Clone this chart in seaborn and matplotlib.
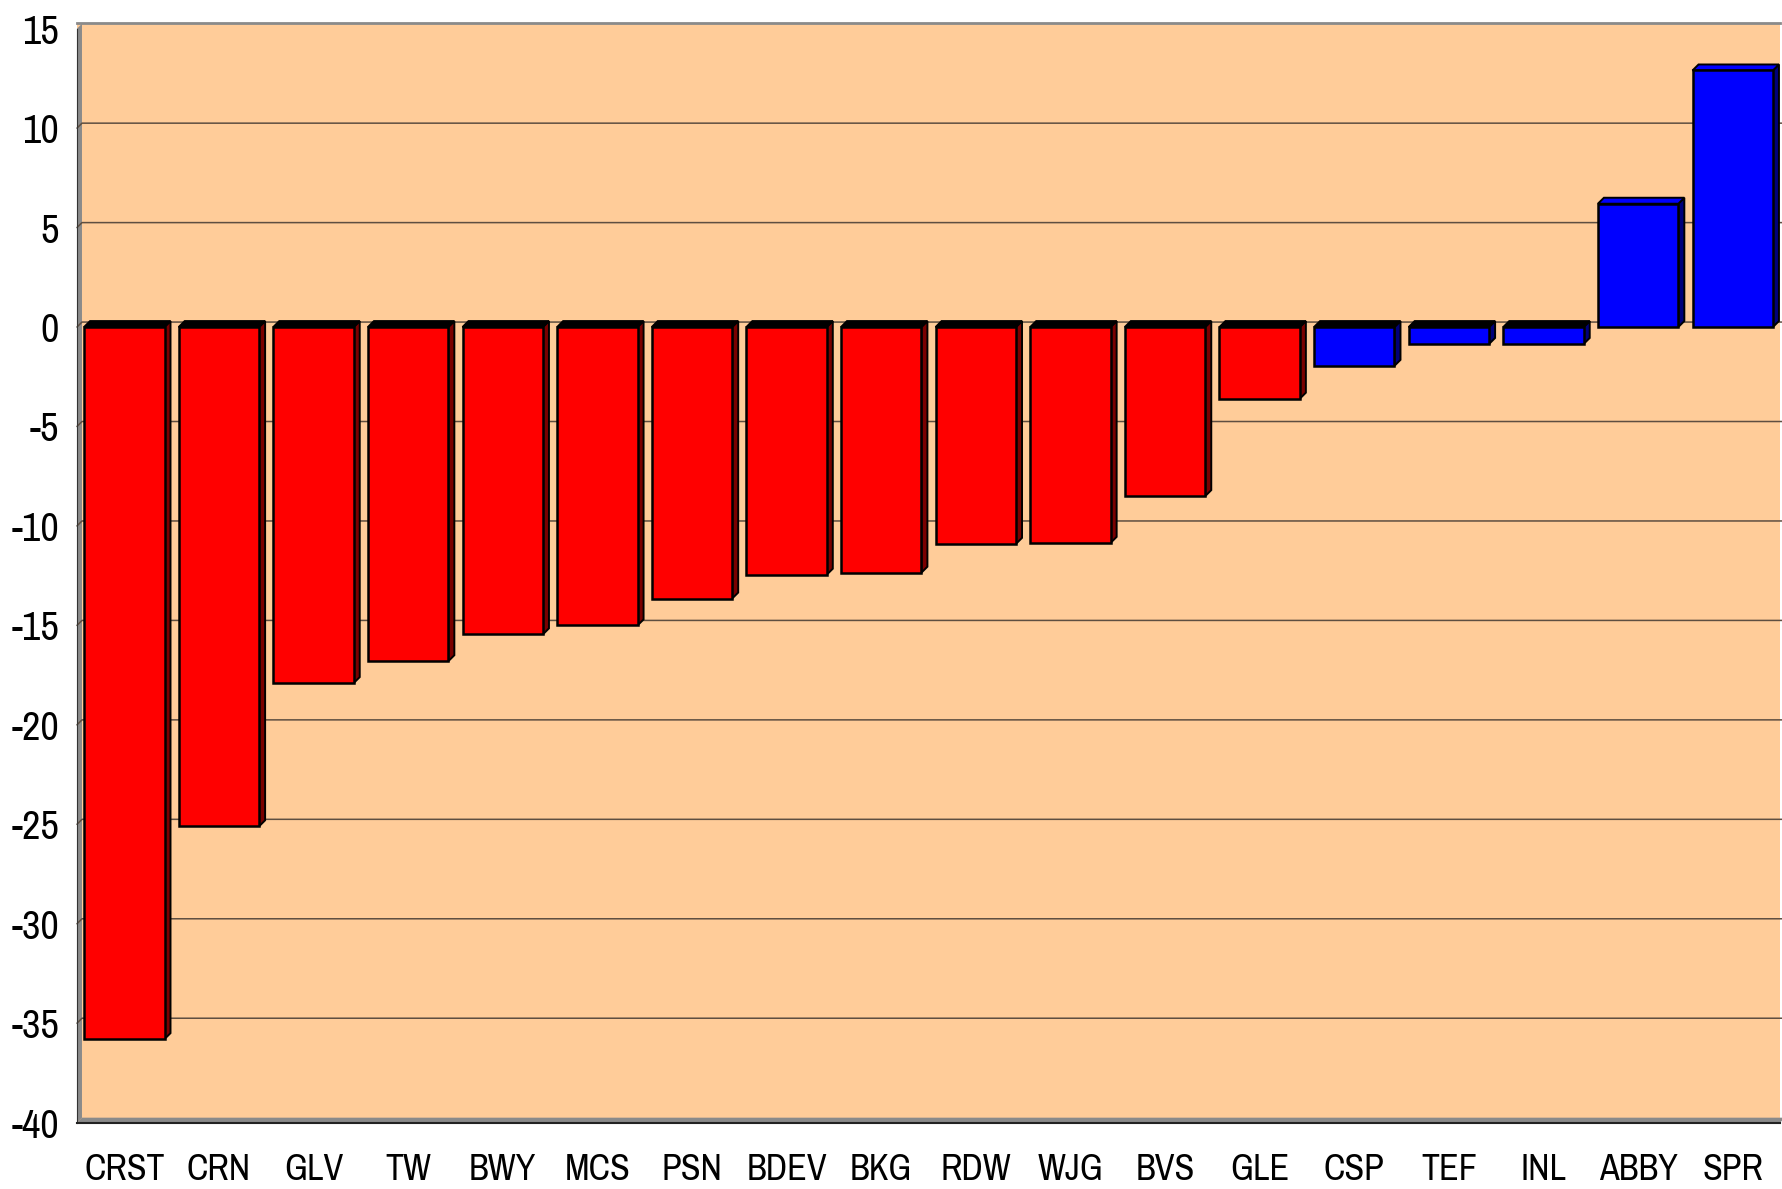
import numpy as np
import pandas as pd
import matplotlib
matplotlib.use("Agg")
import matplotlib.pyplot as plt
from matplotlib import font_manager
from matplotlib.patches import Polygon
import seaborn as sns

# data
codes = ["CRST", "CRN", "GLV", "TW", "BWY", "MCS", "PSN", "BDEV", "BKG",
         "RDW", "WJG", "BVS", "GLE", "CSP", "TEF", "INL", "ABBY", "SPR"]
change = [-35.8, -25.1, -17.9, -16.8, -15.45, -15.0, -13.65, -12.45, -12.35,
          -10.9, -10.85, -8.5, -3.6, -1.95, -0.85, -0.85, 6.2, 12.9]
group = ["down"] * 13 + ["up"] * 5
yticks = [15, 10, 5, 0, -5, -10, -15, -20, -25, -30, -35, -40]

df = pd.DataFrame({"code": codes, "change": change, "group": group})

front = {"down": "#FF0000", "up": "#0000FF"}
side = {"down": "#7a0000", "up": "#00007a"}
peach = "#FFCC99"

sns.set_style("white")

# narrow font if there is one installed, else plain Liberation Sans
fams = {f.name for f in font_manager.fontManager.ttflist}
narrow = [f.name for f in font_manager.fontManager.ttflist
          if "Narrow" in f.name or "Condensed" in f.name]
if "Liberation Sans Narrow" in fams:
    plt.rcParams["font.family"] = ["Liberation Sans Narrow", "DejaVu Sans"]
elif narrow:
    plt.rcParams["font.family"] = [narrow[0], "DejaVu Sans"]
else:
    plt.rcParams["font.family"] = ["Liberation Sans", "DejaVu Sans"]

fig = plt.figure(figsize=(17.82, 11.89), dpi=100)
ax = fig.add_axes([0.0432, 0.0558, 0.9557, 0.9251])
ax.set_facecolor(peach)

sns.barplot(data=df, x="code", y="change", hue="group", palette=front,
            width=0.85, edgecolor="black", linewidth=1.8, legend=False,
            saturation=1, ax=ax, zorder=3)

ax.set_xlim(-0.5, len(codes) - 0.5)
ax.set_ylim(-40, 15)
# pixel -> data conversion for the fake 3D depth
p0 = ax.transData.transform((0, 0))
p1 = ax.transData.transform((1, 1))
ux, uy = p1[0] - p0[0], p1[1] - p0[1]
ax.set_ylim(-40, 15 + 6 / uy)

dxw, dyw = 5 / ux, 5 / uy   # walls
dxb, dyb = 6 / ux, 6 / uy   # bars
x_lo, x_hi = -0.5, len(codes) - 0.5

# left wall and floor
ax.add_patch(Polygon([(x_lo, -40), (x_lo, 15), (x_lo + dxw, 15 + dyw), (x_lo + dxw, -40 + dyw)],
                     closed=True, facecolor="#8a8a8a", edgecolor="none", zorder=1.5, clip_on=False))
ax.add_patch(Polygon([(x_lo, -40), (x_hi, -40), (x_hi + dxw, -40 + dyw), (x_lo + dxw, -40 + dyw)],
                     closed=True, facecolor="#8a8a8a", edgecolor="none", zorder=1.5, clip_on=False))

# gridlines on the back wall
for v in yticks[1:-1]:
    ax.plot([x_lo, x_lo + dxw, x_hi + dxw], [v, v + dyw, v + dyw],
            color="#5e4e40", lw=1.1, zorder=1.6, clip_on=False)

# side and top faces of every bar
for bar, g, v in zip(ax.patches, group, change):
    x0 = bar.get_x()
    x1 = x0 + bar.get_width()
    top, bot = max(v, 0), min(v, 0)
    ax.add_patch(Polygon([(x1, bot), (x1, top), (x1 + dxb, top + dyb), (x1 + dxb, bot + dyb)],
                         closed=True, facecolor=side[g], edgecolor="black", lw=1.4, zorder=2.5))
    topcol = "black" if v < 0 else front[g]
    ax.add_patch(Polygon([(x0, top), (x1, top), (x1 + dxb, top + dyb), (x0 + dxb, top + dyb)],
                         closed=True, facecolor=topcol, edgecolor="black", lw=1.4, zorder=2.5))

# axes styling
ax.spines["right"].set_visible(False)
ax.spines["top"].set_color("#8a8a8a")
ax.spines["top"].set_linewidth(2)
ax.spines["left"].set_color("#333333")
ax.spines["left"].set_bounds(-40, 15)
ax.spines["bottom"].set_color("#222222")
ax.spines["bottom"].set_linewidth(1.5)

ax.set_yticks(yticks)
ax.set_yticklabels([str(t) for t in yticks])
ax.tick_params(axis="y", length=10, width=1.2, color="#444444", labelsize=29,
               labelcolor="black", pad=3)

ax.set_xticks(range(len(codes)))
ax.set_xticklabels(codes)
ax.set_xticks(np.arange(len(codes) + 1) - 0.5, minor=True)
ax.tick_params(axis="x", which="major", length=0, labelsize=26, labelcolor="black", pad=22)
ax.tick_params(axis="x", which="minor", length=13, width=1.2, color="#444444")

ax.set_xlabel("")
ax.set_ylabel("")

fig.savefig("out.png", dpi=100, facecolor="white")
